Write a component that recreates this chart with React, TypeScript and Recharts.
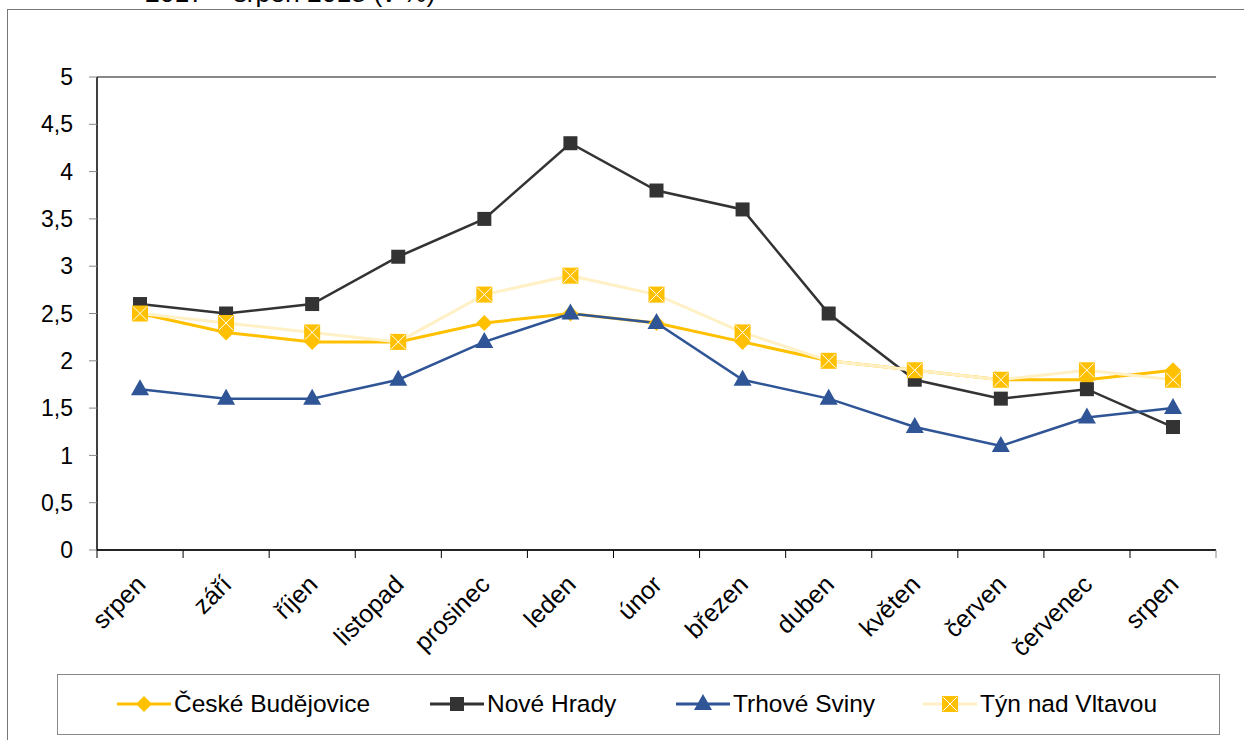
import React from "react";
import {
  LineChart,
  Line,
  XAxis,
  YAxis,
  CartesianGrid,
  ReferenceLine,
} from "recharts";

const months = [
  "srpen",
  "září",
  "říjen",
  "listopad",
  "prosinec",
  "leden",
  "únor",
  "březen",
  "duben",
  "květen",
  "červen",
  "červenec",
  "srpen",
];

const ceskeBudejovice = [2.5, 2.3, 2.2, 2.2, 2.4, 2.5, 2.4, 2.2, 2.0, 1.9, 1.8, 1.8, 1.9];
const noveHrady = [2.6, 2.5, 2.6, 3.1, 3.5, 4.3, 3.8, 3.6, 2.5, 1.8, 1.6, 1.7, 1.3];
const trhoveSviny = [1.7, 1.6, 1.6, 1.8, 2.2, 2.5, 2.4, 1.8, 1.6, 1.3, 1.1, 1.4, 1.5];
const tynNadVltavou = [2.5, 2.4, 2.3, 2.2, 2.7, 2.9, 2.7, 2.3, 2.0, 1.9, 1.8, 1.9, 1.8];

const yTicks = [0, 0.5, 1, 1.5, 2, 2.5, 3, 3.5, 4, 4.5, 5];

const data = months.map((m, i) => ({
  month: m,
  cb: ceskeBudejovice[i],
  nh: noveHrady[i],
  ts: trhoveSviny[i],
  tyn: tynNadVltavou[i],
}));

const FONT = "'Liberation Sans', Arial, sans-serif";
const YELLOW = "#FFC000";
const DARK = "#333333";
const BLUE = "#2F5597";
const PALE = "#FFF0C6";

const Diamond = ({ cx, cy }: any) => (
  <path d={`M${cx},${cy - 8}L${cx + 8},${cy}L${cx},${cy + 8}L${cx - 8},${cy}Z`} fill={YELLOW} />
);
const Square = ({ cx, cy }: any) => (
  <rect x={cx - 7} y={cy - 7} width={14} height={14} fill={DARK} />
);
const Triangle = ({ cx, cy }: any) => (
  <path d={`M${cx},${cy - 10}L${cx + 9},${cy + 6}L${cx - 9},${cy + 6}Z`} fill={BLUE} />
);
const XSquare = ({ cx, cy }: any) => (
  <g>
    <rect x={cx - 8} y={cy - 8} width={16} height={16} fill={YELLOW} />
    <path
      d={`M${cx - 7},${cy - 7}L${cx + 7},${cy + 7}M${cx + 7},${cy - 7}L${cx - 7},${cy + 7}`}
      stroke="#fff"
      strokeWidth={1}
    />
  </g>
);

const HALF_BAND = 43;

const MonthTick = ({ x, y, payload, index }: any) => (
  <g>
    <line x1={x - HALF_BAND} y1={y} x2={x - HALF_BAND} y2={y + 8} stroke="#000" />
    {index === months.length - 1 && (
      <line x1={x + HALF_BAND} y1={y} x2={x + HALF_BAND} y2={y + 8} stroke="#888" />
    )}
    <text
      x={x + 7}
      y={y + 36}
      textAnchor="end"
      transform={`rotate(-45 ${x + 7} ${y + 36})`}
      fontSize={25}
      fontFamily={FONT}
      fill="#000"
    >
      {payload.value}
    </text>
  </g>
);

const legendItems = [
  { name: "České Budějovice", color: YELLOW, Mark: Diamond, left: 116 },
  { name: "Nové Hrady", color: DARK, Mark: Square, left: 429 },
  { name: "Trhové Sviny", color: BLUE, Mark: Triangle, left: 675 },
  { name: "Týn nad Vltavou", color: PALE, Mark: XSquare, left: 922 },
];

export default function App() {
  return (
    <div
      style={{
        position: "absolute",
        left: 0,
        top: 0,
        width: 1244,
        height: 740,
        background: "#fff",
        overflow: "hidden",
        fontFamily: FONT,
      }}
    >
      <div
        style={{
          position: "absolute",
          left: 7,
          top: 9,
          width: 1300,
          height: 800,
          borderLeft: "1.5px solid #777",
          borderTop: "1.5px solid #777",
        }}
      />
      <div
        style={{
          position: "absolute",
          left: 145,
          top: -22,
          fontSize: 26.5,
          whiteSpace: "nowrap",
          color: "#000",
        }}
      >
        2017 – srpen 2018 (v %)
      </div>
      <div style={{ position: "absolute", left: 0, top: 0 }}>
        <LineChart
          width={1244}
          height={740}
          data={data}
          margin={{ top: 77, right: 28, bottom: 70, left: 8 }}
        >
          <CartesianGrid horizontal vertical={false} stroke="#222" strokeWidth={1} />
          <XAxis
            dataKey="month"
            interval={0}
            height={120}
            padding={{ left: HALF_BAND, right: HALF_BAND }}
            tickLine={false}
            tickSize={0}
            tickMargin={0}
            axisLine={{ stroke: "#000", strokeWidth: 1.5 }}
            tick={<MonthTick />}
          />
          <YAxis
            yAxisId="left"
            width={89}
            domain={[0, 5]}
            ticks={yTicks}
            interval={0}
            tickSize={8}
            tickMargin={16}
            tickLine={{ stroke: "#888" }}
            axisLine={{ stroke: "#000", strokeWidth: 1.5 }}
            tickFormatter={(v: number) => String(v).replace(".", ",")}
            tick={{ fontSize: 23, fontFamily: FONT, fill: "#000" }}
          />
          <YAxis
            yAxisId="right"
            orientation="right"
            width={0}
            domain={[0, 5]}
            tick={false}
            tickLine={false}
            axisLine={{ stroke: "#888", strokeWidth: 2 }}
          />
          <ReferenceLine yAxisId="left" y={5} stroke="#888" strokeWidth={2} />
          <Line
            yAxisId="left"
            dataKey="cb"
            stroke={YELLOW}
            strokeWidth={3}
            dot={<Diamond />}
            activeDot={false}
            isAnimationActive={false}
          />
          <Line
            yAxisId="left"
            dataKey="nh"
            stroke={DARK}
            strokeWidth={2.5}
            dot={<Square />}
            activeDot={false}
            isAnimationActive={false}
          />
          <Line
            yAxisId="left"
            dataKey="ts"
            stroke={BLUE}
            strokeWidth={2.5}
            dot={<Triangle />}
            activeDot={false}
            isAnimationActive={false}
          />
          <Line
            yAxisId="left"
            dataKey="tyn"
            stroke={PALE}
            strokeWidth={3}
            dot={<XSquare />}
            activeDot={false}
            isAnimationActive={false}
          />
        </LineChart>
      </div>
      <div
        style={{
          position: "absolute",
          left: 57,
          top: 674,
          width: 1163,
          height: 61,
          border: "1.5px solid #888",
          boxSizing: "border-box",
        }}
      >
        {legendItems.map(({ name, color, Mark, left }) => (
          <div
            key={name}
            style={{
              position: "absolute",
              left: left - 57,
              top: 14,
              height: 30,
              display: "flex",
              alignItems: "center",
              whiteSpace: "nowrap",
            }}
          >
            <svg width={54} height={30} style={{ display: "block" }}>
              <line x1={0} y1={15} x2={54} y2={15} stroke={color} strokeWidth={3} />
              <Mark cx={27} cy={15} />
            </svg>
            <span style={{ marginLeft: 3, fontSize: 24.5, color: "#000" }}>{name}</span>
          </div>
        ))}
      </div>
    </div>
  );
}
